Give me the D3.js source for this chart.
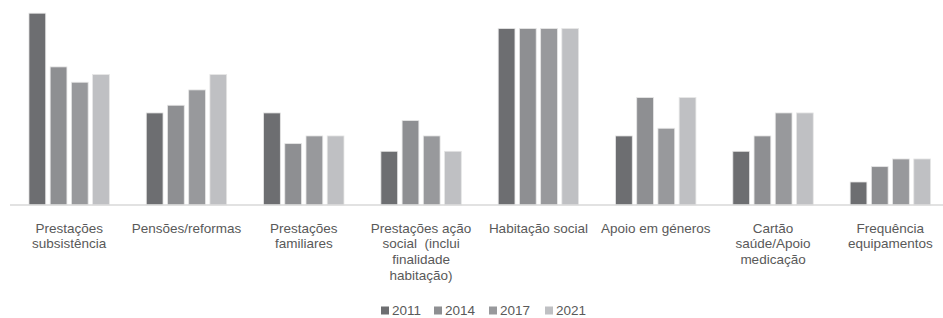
<!DOCTYPE html>
<html>
<head>
<meta charset="utf-8">
<script src="https://cdn.jsdelivr.net/npm/d3@7"></script>
<style>
  html, body { margin: 0; padding: 0; background: #ffffff; }
  svg { display: block; }
  text { font-family: "Liberation Sans", Arial, sans-serif; fill: #595959; }
</style>
</head>
<body>
<svg id="chart" width="943" height="318"></svg>
<script>
// ---- data ----
const categories = [
  ["Prestações", "subsistência"],
  ["Pensões/reformas"],
  ["Prestações", "familiares"],
  ["Prestações ação", "social  (inclui", "finalidade", "habitação)"],
  ["Habitação social"],
  ["Apoio em géneros"],
  ["Cartão", "saúde/Apoio", "medicação"],
  ["Frequência", "equipamentos"]
];
const years = ["2011", "2014", "2017", "2021"];
const values2011 = [25, 12, 12, 7, 23, 9, 7, 3];
const values2014 = [18, 13, 8, 11, 23, 14, 9, 5];
const values2017 = [16, 15, 9, 9, 23, 10, 12, 6];
const values2021 = [17, 17, 9, 7, 23, 14, 12, 6];
const colors = ["#6d6e71", "#8e8f92", "#98999c", "#bfc0c3"];

const series = [values2011, values2014, values2017, values2021];
const catKeys = categories.map((c, i) => "c" + i);
const table = catKeys.map((k, i) => ({
  key: k,
  label: categories[i],
  vals: years.map((y, j) => ({ year: y, value: series[j][i] }))
}));

// ---- scales ----
const svg = d3.select("#chart");
const baseY = 205;
const x0 = d3.scaleBand().domain(catKeys).range([10.5, 949]).paddingInner(0).paddingOuter(0);
const x1 = d3.scaleBand().domain(years).range([0, x0.bandwidth()]).paddingInner(0.21).paddingOuter(0.87);
const y = d3.scaleLinear().domain([0, 25]).range([baseY, 13.2]);
const color = d3.scaleOrdinal().domain(years).range(colors);

// ---- bars ----
const groups = svg.append("g").selectAll("g").data(table).join("g")
  .attr("transform", d => `translate(${x0(d.key)},0)`);
groups.selectAll("rect").data(d => d.vals).join("rect")
  .attr("x", d => x1(d.year))
  .attr("width", x1.bandwidth())
  .attr("y", d => y(d.value))
  .attr("height", d => y(0) - y(d.value))
  .attr("fill", d => color(d.year))
  .attr("stroke", "#e6e6e6")
  .attr("stroke-width", 0.8);

// ---- axis ----
const axis = svg.append("g").attr("transform", `translate(0,${baseY})`)
  .call(d3.axisBottom(x0).tickSize(0).tickFormat(""));
axis.select(".domain").attr("stroke", "#d9d9d9").attr("stroke-width", 1.5)
  .attr("d", "M10,0H943");

// ---- category labels ----
const labels = svg.append("g");
table.forEach(d => {
  const t = labels.append("text")
    .attr("x", x0(d.key) + x0.bandwidth() / 2)
    .attr("y", 232.5)
    .attr("text-anchor", "middle")
    .attr("font-size", 13.5)
    .style("white-space", "pre");
  d.label.forEach((line, i) => {
    t.append("tspan")
      .attr("x", x0(d.key) + x0.bandwidth() / 2)
      .attr("dy", i === 0 ? 0 : 15.9)
      .text(line);
  });
});

// ---- legend ----
const legendX = [381, 434, 489, 545];
const legend = svg.append("g").selectAll("g").data(years).join("g")
  .attr("transform", (d, i) => `translate(${legendX[i]},0)`);
legend.append("rect").attr("x", 0).attr("y", 306.5).attr("width", 8).attr("height", 8)
  .attr("fill", d => color(d));
legend.append("text").attr("x", 11).attr("y", 315).attr("font-size", 13.5).text(d => d);
</script>
</body>
</html>
